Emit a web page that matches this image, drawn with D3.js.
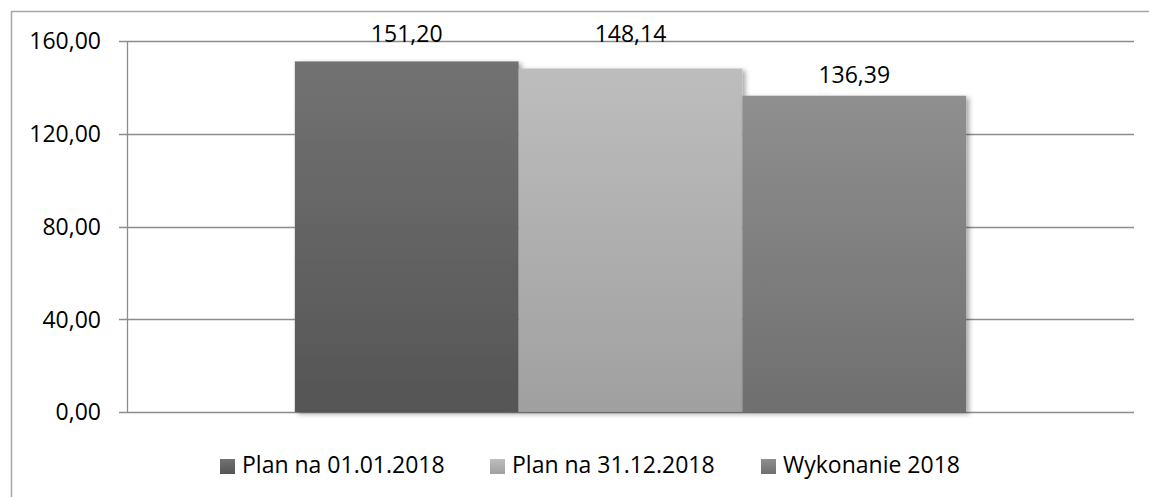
<!DOCTYPE html>
<html>
<head>
<script src="https://cdn.jsdelivr.net/npm/d3@7/dist/d3.min.js"></script>
<style>
    body{margin:0;background:#fff;font-family:"Open Sans",sans-serif;}
</style>
</head>
<body>
<div id="chart"></div>
<script>
    var series = ["Plan na 01.01.2018","Plan na 31.12.2018","Wykonanie 2018"]
    var values = [151.20,148.14,136.39]
    var yTicks = [0,40,80,120,160]
    var topColors = ["#727272","#bdbdbd","#8f8f8f"]
    var bottomColors = ["#555555","#a0a0a0","#6f6f6f"]

    var fmt = function(v){return d3.format(".2f")(v).replace(".",",")}

    var W = 1149, H = 497
    var plotLeft = 127, plotRight = 1134, plotTop = 41, plotBottom = 412

    var svg = d3.select("#chart").append("svg")
        .attr("width",W).attr("height",H)

    var defs = svg.append("defs")
    series.forEach(function(s,i){
        var g = defs.append("linearGradient").attr("id","grad"+i)
            .attr("x1",0).attr("y1",0).attr("x2",0).attr("y2",1)
        g.append("stop").attr("offset","0%").attr("stop-color",topColors[i])
        g.append("stop").attr("offset","100%").attr("stop-color",bottomColors[i])
    })
    var f = defs.append("filter").attr("id","shadow")
        .attr("x","-10%").attr("y","-10%").attr("width","130%").attr("height","130%")
    f.append("feDropShadow").attr("dx",3).attr("dy",2).attr("stdDeviation",2.5)
        .attr("flood-color","#000").attr("flood-opacity",0.35)

    // outer border (chart area runs off the image on right and bottom)
    svg.append("rect").attr("x",11.5).attr("y",11.5).attr("width",W+20).attr("height",H+20)
        .attr("fill","none").attr("stroke","#a6a6a6").attr("stroke-width",1.5)

    var y = d3.scaleLinear().domain([0,160]).range([plotBottom,plotTop])
    var x = d3.scaleBand().domain(["cat"]).range([plotLeft,plotRight])
    var xs = d3.scaleBand().domain(series).range([0,x.bandwidth()]).paddingOuter(0.75)

    // gridlines + ticks
    svg.append("g").selectAll("line").data(yTicks).enter().append("line")
        .attr("x1",plotLeft-8).attr("x2",plotRight)
        .attr("y1",function(d){return Math.round(y(d))+0.5})
        .attr("y2",function(d){return Math.round(y(d))+0.5})
        .attr("stroke","#8c8c8c").attr("stroke-width",1.3)

    svg.append("line").attr("x1",plotLeft+0.5).attr("x2",plotLeft+0.5)
        .attr("y1",plotTop).attr("y2",plotBottom)
        .attr("stroke","#8c8c8c").attr("stroke-width",1.3)

    svg.append("g").selectAll("text").data(yTicks).enter().append("text")
        .attr("x",101).attr("y",function(d){return y(d)})
        .attr("dy","0.36em").attr("text-anchor","end")
        .attr("font-size",23).attr("fill","#000")
        .text(fmt)

    // bars
    svg.append("g").selectAll("rect").data(values).enter().append("rect")
        .attr("x",function(d,i){return x("cat")+xs(series[i])})
        .attr("width",xs.bandwidth())
        .attr("y",function(d){return y(d)})
        .attr("height",function(d){return plotBottom-y(d)})
        .attr("fill",function(d,i){return "url(#grad"+i+")"})
        .attr("filter","url(#shadow)")

    // data labels
    svg.append("g").selectAll("text").data(values).enter().append("text")
        .attr("x",function(d,i){return x("cat")+xs(series[i])+xs.bandwidth()/2})
        .attr("y",function(d){
            var b = y(d)-12.5
            return (b-17<plotTop) ? 41.5 : b
        })
        .attr("text-anchor","middle").attr("font-size",23).attr("fill","#000")
        .text(fmt)

    // legend
    var legX = [220,490,761]
    var leg = svg.append("g").selectAll("g").data(series).enter().append("g")
        .attr("transform",function(d,i){return "translate("+legX[i]+",459)"})
    leg.append("rect").attr("width",15).attr("height",15)
        .attr("fill",function(d,i){return "url(#grad"+i+")"})
    leg.append("text").attr("x",22).attr("y",14)
        .attr("font-size",23).attr("fill","#000")
        .text(function(d){return d})
</script>
</body>
</html>
